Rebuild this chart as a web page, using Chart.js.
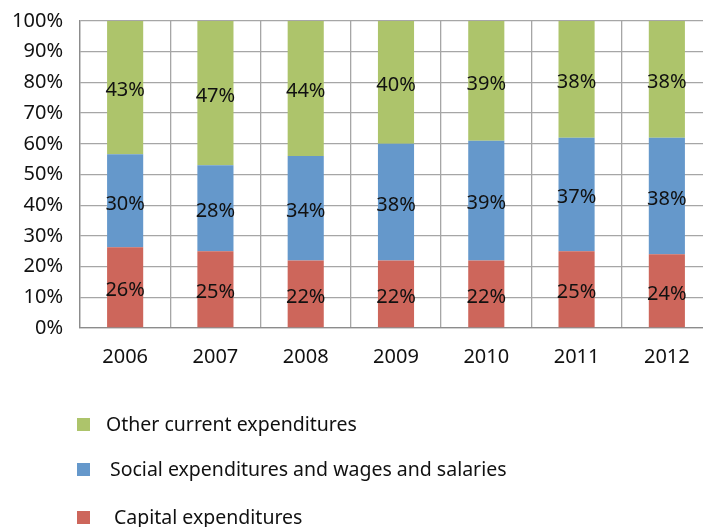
<!DOCTYPE html>
<html>
<head>
<meta charset="utf-8">
<script src="https://cdn.jsdelivr.net/npm/chart.js@4/dist/chart.umd.min.js"></script>
<style>
  html, body { margin: 0; padding: 0; background: #fff; overflow: hidden; }
  #wrap { position: absolute; left: 0; top: 0; width: 720px; height: 527px; }
  #legend { position: absolute; left: 0; top: 0; font-family: "Noto Sans", sans-serif; font-size: 19.5px; color: #111; }
  .item { position: absolute; white-space: nowrap; }
  .swatch { position: absolute; width: 13px; height: 13px; }
</style>
</head>
<body>
<div id="wrap"><canvas id="chart" width="720" height="527"></canvas></div>
<div id="legend"></div>
<script>
const years = ['2006', '2007', '2008', '2009', '2010', '2011', '2012'];
const capital = [26, 25, 22, 22, 22, 25, 24];
const social = [30, 28, 34, 38, 39, 37, 38];
const other = [43, 47, 44, 40, 39, 38, 38];
const yTicks = [0, 10, 20, 30, 40, 50, 60, 70, 80, 90, 100];

const seriesNames = ['Capital expenditures', 'Social expenditures and wages and salaries', 'Other current expenditures'];
const seriesColors = ['#CD665B', '#6598CB', '#ADC46B'];
const seriesValues = [capital, social, other];

const FONT = '"Noto Sans", sans-serif';

// each year is shown as shares of its own total, so the stack always reaches 100%
const totals = years.map((_, i) => capital[i] + social[i] + other[i]);
const share = arr => arr.map((v, i) => v / totals[i] * 100);

const datasets = seriesValues.map((vals, k) => ({
    label: seriesNames[k],
    data: share(vals),
    raw: vals,
    backgroundColor: seriesColors[k],
    borderWidth: 0,
    barPercentage: 0.4,
    categoryPercentage: 1
}));

// percent text in the middle of each segment
const segmentLabels = {
    id: 'segmentLabels',
    afterDatasetsDraw(chart) {
        const ctx = chart.ctx;
        ctx.save();
        ctx.font = '20px ' + FONT;
        ctx.fillStyle = '#111';
        ctx.textAlign = 'center';
        ctx.textBaseline = 'middle';
        chart.data.datasets.forEach((ds, di) => {
            chart.getDatasetMeta(di).data.forEach((bar, i) => {
                const mid = (bar.y + bar.base) / 2;
                ctx.fillText(ds.raw[i] + '%', bar.x, mid + 3);
            });
        });
        ctx.restore();
    }
};

new Chart(document.getElementById('chart'), {
    type: 'bar',
    data: { labels: years, datasets: datasets },
    options: {
        responsive: false,
        animation: false,
        layout: { padding: { top: 21, right: 8, bottom: 0, left: 0 } },
        plugins: { legend: { display: false }, tooltip: { enabled: false } },
        scales: {
            x: {
                stacked: true,
                grid: { color: '#a6a6a6', lineWidth: 1.3, drawTicks: false, offset: true },
                border: { color: '#8c8c8c', width: 1.3 },
                ticks: { font: { family: FONT, size: 20 }, color: '#111', padding: 17 },
                afterFit(scale) { scale.height = 199; }
            },
            y: {
                stacked: true,
                min: 0,
                max: 100,
                afterBuildTicks(scale) { scale.ticks = yTicks.map(v => ({ value: v })); },
                grid: { color: '#a6a6a6', lineWidth: 1.3, drawTicks: false },
                border: { color: '#8c8c8c', width: 1.3 },
                ticks: {
                    font: { family: FONT, size: 20 },
                    color: '#111',
                    padding: 17,
                    callback: v => v + '%'
                },
                afterFit(scale) {
                    scale.width = 80;
                    scale.paddingTop = 0;
                    scale.paddingBottom = 0;
                }
            }
        }
    },
    plugins: [segmentLabels]
});

// legend, listed top to bottom in reverse stacking order
const legend = document.getElementById('legend');
const legendRows = [
    { idx: 2, y: 424, textX: 106 },
    { idx: 1, y: 469, textX: 110 },
    { idx: 0, y: 517, textX: 114 }
];
legendRows.forEach(row => {
    const sw = document.createElement('div');
    sw.className = 'swatch';
    sw.style.left = '77px';
    sw.style.top = (row.y - 6) + 'px';
    sw.style.background = seriesColors[row.idx];
    legend.appendChild(sw);

    const tx = document.createElement('div');
    tx.className = 'item';
    tx.style.left = row.textX + 'px';
    tx.style.top = (row.y - 14) + 'px';
    tx.innerText = seriesNames[row.idx];
    legend.appendChild(tx);
});
</script>
</body>
</html>
